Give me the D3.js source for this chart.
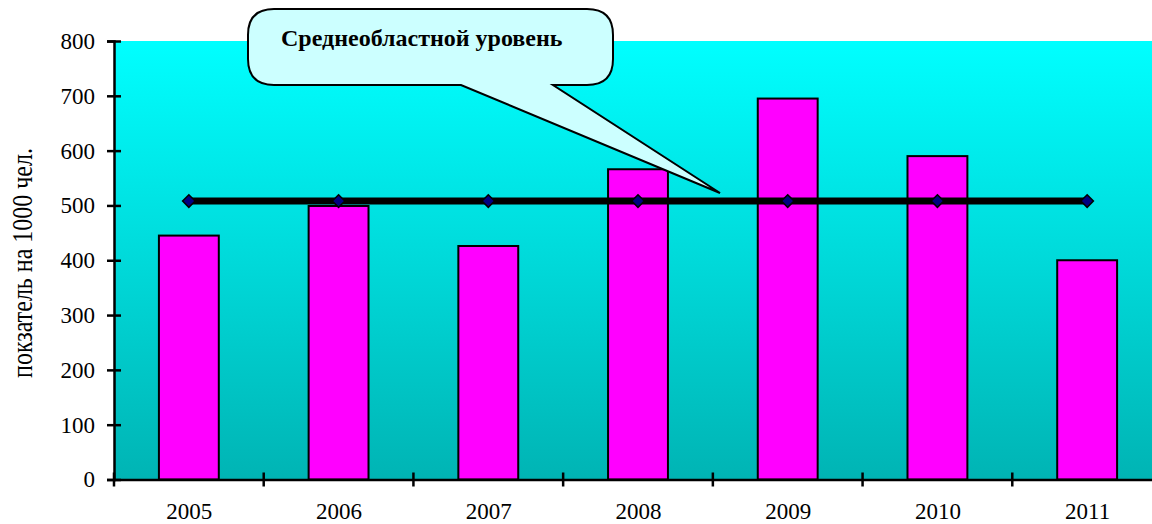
<!DOCTYPE html>
<html>
<head>
<meta charset="utf-8">
<script src="https://cdn.jsdelivr.net/npm/d3@7"></script>
<style>
  body { margin: 0; background: #fff; }
  svg { display: block; }
  text { font-family: "Liberation Serif", "Times New Roman", serif; }
</style>
</head>
<body>
<div id="chart"></div>
<script>
const years = ['2005', '2006', '2007', '2008', '2009', '2010', '2011'];
const rates = [445, 499, 426, 566, 695, 590, 400];
const regionAvg = [508, 508, 508, 508, 508, 508, 508];
const yTicks = [0, 100, 200, 300, 400, 500, 600, 700, 800];
const calloutText = 'Среднеобластной уровень';

const width = 1152, height = 524;
const margin = { top: 41, left: 114 };
const plotW = 1048, plotH = 438.5;

const svg = d3.select('#chart').append('svg')
  .attr('width', width)
  .attr('height', height);

const defs = svg.append('defs');
const grad = defs.append('linearGradient')
  .attr('id', 'bg').attr('x1', 0).attr('y1', 0).attr('x2', 0).attr('y2', 1);
grad.append('stop').attr('offset', '0%').attr('stop-color', '#00ffff');
grad.append('stop').attr('offset', '100%').attr('stop-color', '#00b4b4');

const g = svg.append('g').attr('transform', `translate(${margin.left},${margin.top})`);

const x = d3.scaleBand().domain(years).range([0, plotW]).paddingInner(0.6).paddingOuter(0.3);
const xc = d3.scalePoint().domain(years).range([0, plotW]).padding(0.5);
const y = d3.scaleLinear().domain([0, 800]).range([plotH, 0]);

g.append('rect')
  .attr('width', plotW).attr('height', plotH)
  .attr('fill', 'url(#bg)');

// bars
g.selectAll('rect.bar')
  .data(rates)
  .enter()
  .append('rect')
  .attr('class', 'bar')
  .attr('x', (d, i) => x(years[i]))
  .attr('y', d => y(d))
  .attr('width', x.bandwidth())
  .attr('height', d => y(0) - y(d))
  .attr('fill', '#ff00ff')
  .attr('stroke', '#000')
  .attr('stroke-width', 2);

// average line
const line = d3.line().x((d, i) => xc(years[i])).y(d => y(d));
g.append('path')
  .datum(regionAvg)
  .attr('d', line)
  .attr('fill', 'none')
  .attr('stroke', '#000')
  .attr('stroke-width', 7);

g.selectAll('path.mark')
  .data(regionAvg)
  .enter()
  .append('path')
  .attr('class', 'mark')
  .attr('d', d3.symbol().type(d3.symbolDiamond2).size(100))
  .attr('transform', (d, i) => `translate(${xc(years[i])},${y(d)})`)
  .attr('fill', '#000080')
  .attr('stroke', '#000')
  .attr('stroke-width', 1.5);

// axes
const yAxis = g.append('g')
  .call(d3.axisLeft(y).tickValues(yTicks).tickSize(7).tickPadding(12));
yAxis.attr('font-size', null).attr('font-family', null);
yAxis.select('.domain').attr('stroke-width', 2.5);
yAxis.selectAll('.tick line').attr('stroke-width', 2.5).attr('x2', 7).attr('x1', -7);
yAxis.selectAll('.tick text').style('font-size', '23px').attr('fill', '#000');

const xAxis = g.append('g')
  .attr('transform', `translate(0,${plotH})`)
  .call(d3.axisBottom(xc).tickSize(0).tickPadding(23));
xAxis.attr('font-size', null).attr('font-family', null);
xAxis.select('.domain').attr('stroke-width', 2.5);
xAxis.selectAll('.tick text').style('font-size', '23px').attr('fill', '#000');

// category boundary ticks
g.append('g').selectAll('line')
  .data(d3.range(years.length + 1))
  .enter()
  .append('line')
  .attr('x1', i => i * xc.step())
  .attr('x2', i => i * xc.step())
  .attr('y1', plotH - 7)
  .attr('y2', plotH + 7)
  .attr('stroke', '#000')
  .attr('stroke-width', 2.5);

// y title
svg.append('text')
  .attr('transform', 'translate(32,263) rotate(-90) scale(1,1.2)')
  .attr('text-anchor', 'middle')
  .style('font-size', '24px')
  .text('покзатель на 1000 чел.');

// callout
const cx0 = 248, cy0 = 9, cx1 = 613, cy1 = 85, r = 26;
const tail = [[461, cy1], [720, 193], [553, cy1]];
const cp = d3.path();
cp.moveTo(cx0 + r, cy0);
cp.lineTo(cx1 - r, cy0);
cp.quadraticCurveTo(cx1, cy0, cx1, cy0 + r);
cp.lineTo(cx1, cy1 - r);
cp.quadraticCurveTo(cx1, cy1, cx1 - r, cy1);
cp.lineTo(tail[2][0], tail[2][1]);
cp.lineTo(tail[1][0], tail[1][1]);
cp.lineTo(tail[0][0], tail[0][1]);
cp.lineTo(cx0 + r, cy1);
cp.quadraticCurveTo(cx0, cy1, cx0, cy1 - r);
cp.lineTo(cx0, cy0 + r);
cp.quadraticCurveTo(cx0, cy0, cx0 + r, cy0);
cp.closePath();
svg.append('path')
  .attr('d', cp.toString())
  .attr('fill', '#ccffff')
  .attr('stroke', '#000')
  .attr('stroke-width', 2);

svg.append('text')
  .attr('x', 281)
  .attr('y', 46)
  .style('font-size', '24px')
  .attr('font-weight', 'bold')
  .text(calloutText);
</script>
</body>
</html>
